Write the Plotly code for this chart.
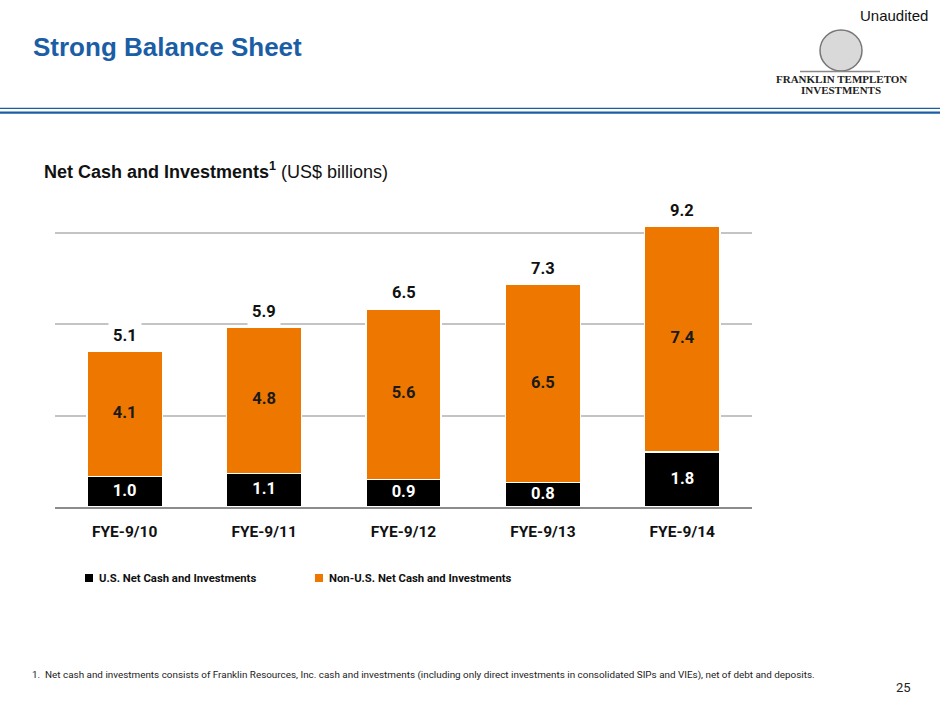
import plotly.graph_objects as go

categories = ["FYE-9/10", "FYE-9/11", "FYE-9/12", "FYE-9/13", "FYE-9/14"]
us_values = [1.0, 1.1, 0.9, 0.8, 1.8]
non_us_values = [4.1, 4.8, 5.6, 6.5, 7.4]
totals = [5.1, 5.9, 6.5, 7.3, 9.2]
series_names = ["U.S. Net Cash and Investments", "Non-U.S. Net Cash and Investments"]
series_colors = ["#000000", "#EE7700"]

NARROW = "Roboto, Liberation Sans Narrow, Arial Narrow, sans-serif"
ARIAL = "Liberation Sans, Arial, Helvetica, sans-serif"
SERIF = "Liberation Serif, Times New Roman, DejaVu Serif, serif"
BLUE = "#1B5EA5"
LBL = 16.5

fig = go.Figure()

fig.add_trace(go.Bar(
    x=categories, y=us_values, name=series_names[0],
    marker=dict(color=series_colors[0], line=dict(color="white", width=1.5)),
    width=0.54, showlegend=False, hoverinfo="skip",
))
fig.add_trace(go.Bar(
    x=categories, y=non_us_values, name=series_names[1],
    marker=dict(color=series_colors[1], line=dict(color="white", width=1.5)),
    width=0.54, showlegend=False, hoverinfo="skip",
))

# segment labels
fig.add_trace(go.Scatter(
    x=categories, y=[v / 2 for v in us_values], mode="text",
    text=[f"{v:.1f}" for v in us_values],
    textfont=dict(family=NARROW, size=LBL, color="white", weight="bold"),
    showlegend=False, hoverinfo="skip",
))
fig.add_trace(go.Scatter(
    x=categories, y=[u + v / 2 for u, v in zip(us_values, non_us_values)], mode="text",
    text=[f"{v:.1f}" for v in non_us_values],
    textfont=dict(family=NARROW, size=LBL, color="#1A1A1A", weight="bold"),
    showlegend=False, hoverinfo="skip",
))

annotations = []
for c, t in zip(categories, totals):
    annotations.append(dict(
        x=c, y=t, xref="x", yref="y", text=f"<b>{t:.1f}</b>", showarrow=False,
        yanchor="middle", yshift=16, bgcolor="white", borderpad=4,
        font=dict(family=NARROW, size=LBL, color="#111111"),
    ))

# header / footer text (pixel positions, converted below)
annotations += [
    dict(x=31, y=47, text="<b>Strong Balance Sheet</b>", showarrow=False,
         xanchor="left", yanchor="middle", font=dict(family=ARIAL, size=26, color=BLUE)),
    dict(x=930, y=15, text="Unaudited", showarrow=False, xanchor="right", yanchor="middle",
         font=dict(family=ARIAL, size=15, color="#111111")),
    dict(x=841, y=79, text="<b>FRANKLIN TEMPLETON</b>", showarrow=False, xanchor="center", yanchor="middle",
         font=dict(family=SERIF, size=11, color="#222222")),
    dict(x=841, y=90, text="<b>INVESTMENTS</b>", showarrow=False, xanchor="center", yanchor="middle",
         font=dict(family=SERIF, size=11, color="#222222")),
    dict(x=42, y=171, text="<b>Net Cash and Investments</b><sup><b>1</b></sup> (US$ billions)", showarrow=False,
         xanchor="left", yanchor="middle", font=dict(family=ARIAL, size=18, color="#111111")),
    dict(x=97, y=578, text=f"<b>{series_names[0]}</b>", showarrow=False, xanchor="left", yanchor="middle",
         font=dict(family=NARROW, size=11.3, color="#111111")),
    dict(x=327, y=578, text=f"<b>{series_names[1]}</b>", showarrow=False, xanchor="left", yanchor="middle",
         font=dict(family=NARROW, size=11.3, color="#111111")),
    dict(x=30, y=675, text="1.  Net cash and investments consists of Franklin Resources, Inc. cash and investments (including only direct investments in consolidated SIPs and VIEs), net of debt and deposits.",
         showarrow=False, xanchor="left", yanchor="middle", font=dict(family=NARROW, size=9.9, color="#222222")),
    dict(x=913, y=687, text="25", showarrow=False, xanchor="right", yanchor="middle",
         font=dict(family=NARROW, size=13, color="#222222")),
]

W, H = 940, 705
ML, MR, MT, MB = 55, 188, 202, 198
pw, ph = W - ML - MR, H - MT - MB
for a in annotations:
    if a.get("xref") == "x":
        continue
    a["xref"] = "paper"
    a["yref"] = "paper"
    a["x"] = (a["x"] - ML) / pw
    a["y"] = (H - MB - a["y"]) / ph

def px(x0, y0, x1, y1):
    return dict(x0=(x0 - ML) / pw, x1=(x1 - ML) / pw, y0=(H - MB - y0) / ph, y1=(H - MB - y1) / ph)

shapes = [
    dict(type="line", xref="paper", yref="paper", line=dict(color=BLUE, width=1.2), **px(0, 108.3, 940, 108.3)),
    dict(type="line", xref="paper", yref="paper", line=dict(color=BLUE, width=2.4), **px(0, 112.6, 940, 112.6)),
    dict(type="circle", xref="paper", yref="paper", line=dict(color="#777777", width=1.5),
         fillcolor="#D9D9D9", **px(820, 30, 862, 71)),
    dict(type="line", xref="paper", yref="paper", line=dict(color="#888888", width=1.5), **px(800, 71.5, 880, 71.5)),
    dict(type="rect", xref="paper", yref="paper", line=dict(width=0), fillcolor=series_colors[0],
         **px(85, 574, 93, 582)),
    dict(type="rect", xref="paper", yref="paper", line=dict(width=0), fillcolor=series_colors[1],
         **px(315, 574, 323, 582)),
]

fig.update_layout(
    width=W, height=H,
    margin=dict(l=ML, r=MR, t=MT, b=MB),
    barmode="stack",
    plot_bgcolor="white", paper_bgcolor="white",
    showlegend=False,
    annotations=annotations,
    shapes=shapes,
    xaxis=dict(
        type="category", range=[-0.5, 4.5], showgrid=False,
        showline=True, linecolor="#8C8C8C", linewidth=1.5,
        ticks="", ticklabelstandoff=10,
        tickfont=dict(family=NARROW, size=15.5, color="#111111", weight="bold"),
        fixedrange=True,
    ),
    yaxis=dict(
        range=[0, 10], dtick=3, tick0=0, showticklabels=False,
        showgrid=True, gridcolor="#C4C4C4", gridwidth=1.5, zeroline=False,
        fixedrange=True,
    ),
)

fig.write_html("out.html", config={"displayModeBar": False},
               post_script="document.body.style.margin='0';document.body.style.padding='0';")
